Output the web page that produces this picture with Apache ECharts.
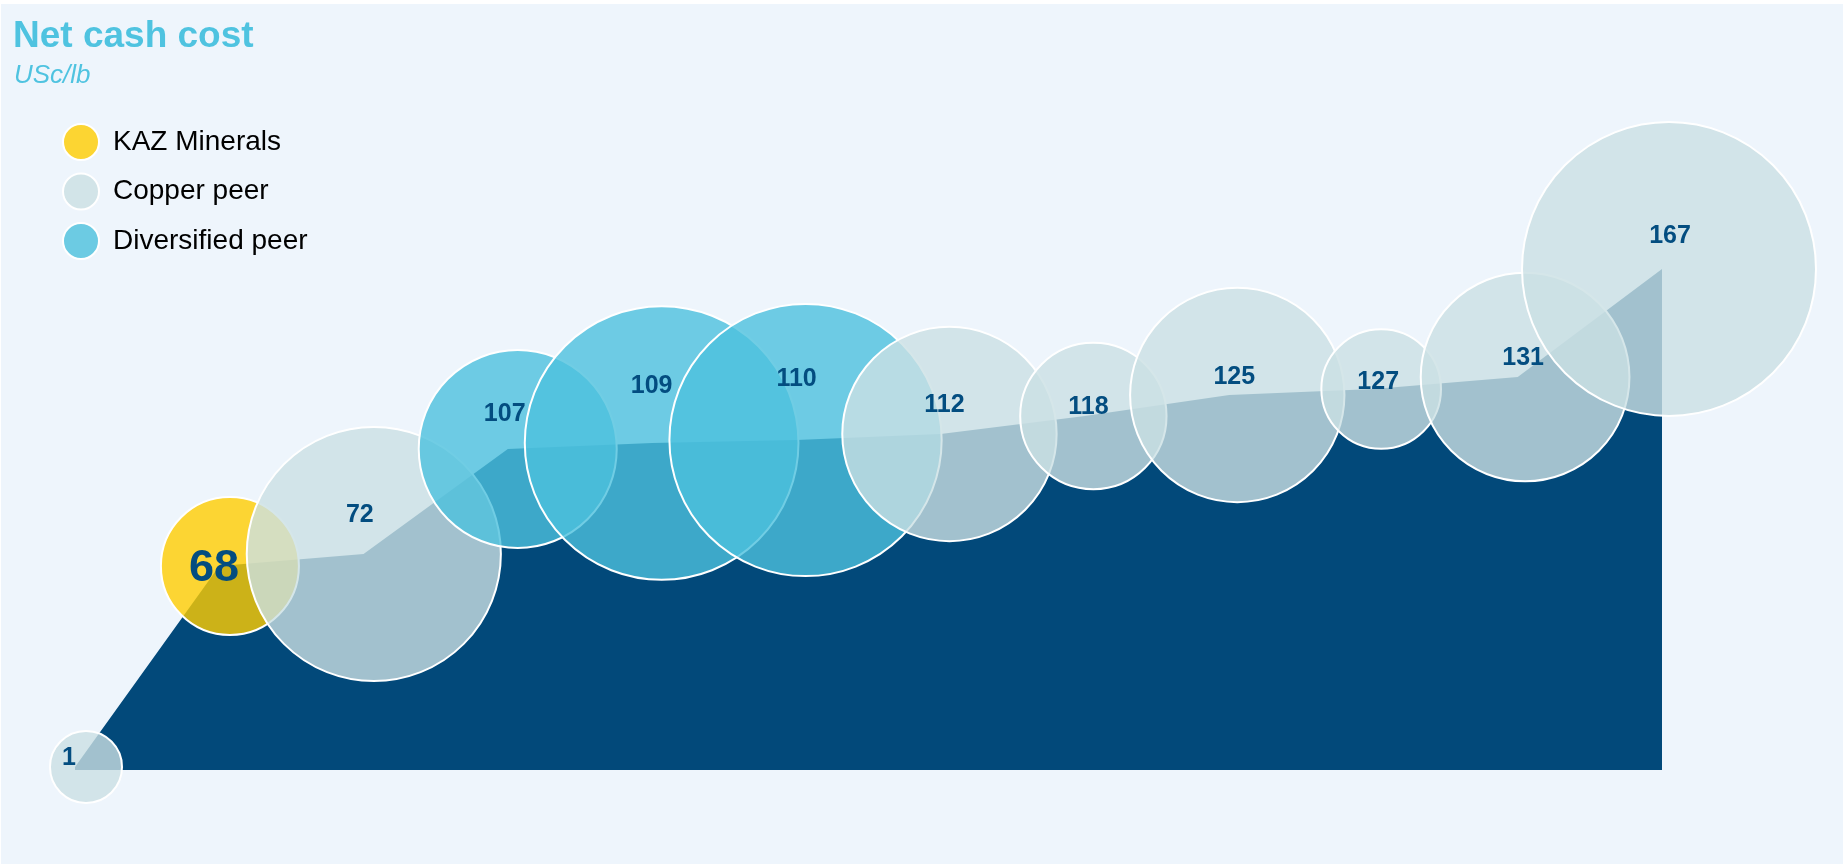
<!DOCTYPE html>
<html>
<head>
<meta charset="utf-8">
<script src="https://cdn.jsdelivr.net/npm/echarts@6/dist/echarts.min.js"></script>
<style>
  html, body { margin: 0; padding: 0; background: #ffffff; }
  #chart { width: 1846px; height: 865px; }
</style>
</head>
<body>
<div id="chart"></div>
<script>
// ---- data ----
const peerRank = ['1', '2', '3', '4', '5', '6', '7', '8', '9', '10', '11', '12'];
const netCashCost = [1, 68, 72, 107, 109, 110, 112, 118, 125, 127, 131, 167];
const peerType = ['Copper peer', 'KAZ Minerals', 'Copper peer', 'Diversified peer', 'Diversified peer',
  'Diversified peer', 'Copper peer', 'Copper peer', 'Copper peer', 'Copper peer', 'Copper peer', 'Copper peer'];
const production = [13.7, 49, 164, 100, 190, 188, 117, 55, 117, 37, 111, 219];
const legendNames = ['KAZ Minerals', 'Copper peer', 'Diversified peer'];

// ---- styles ----
const typeColors = {
  'KAZ Minerals': 'rgba(255,205,0,0.8)',
  'Copper peer': 'rgba(203,224,227,0.8)',
  'Diversified peer': 'rgba(76,192,221,0.8)'
};
const legendColors = {
  'KAZ Minerals': '#FCD532',
  'Copper peer': '#D2E4E8',
  'Diversified peer': '#6CCBE3'
};
const labelOffsets = [[-17, -9], [-16, 3], [-14, -39], [-13, -35], [-10, -57], [-9, -61],
  [-5, -29], [-5, -9], [-3, -18], [-3, -6.5], [-2, -19], [1, -33]];
const FONT = '"Liberation Sans", Arial, sans-serif';
const labelColor = '#034D80';

const bubbleData = netCashCost.map((v, i) => {
  const isKaz = peerType[i] === 'KAZ Minerals';
  return {
    value: [peerRank[i], v, production[i]],
    itemStyle: { color: typeColors[peerType[i]] },
    label: {
      offset: labelOffsets[i],
      fontSize: isKaz ? 45 : 25
    }
  };
});

const chart = echarts.init(document.getElementById('chart'), null, { renderer: 'canvas' });
const legendSeries = legendNames.map(n => ({
  name: n,
  type: 'scatter',
  xAxisIndex: 1,
  yAxisIndex: 1,
  data: [],
  itemStyle: { color: legendColors[n], borderColor: '#ffffff', borderWidth: 2, opacity: 1 }
}));

chart.setOption({
  animation: false,
  backgroundColor: '#ffffff',
  graphic: {
    elements: [{
      type: 'rect', left: 1, top: 4, silent: true, z: -100,
      shape: { width: 1842, height: 860 },
      style: { fill: '#EEF5FC' }
    }]
  },
  title: [
    { text: 'Net cash cost', left: 13, top: 18, padding: 0,
      textStyle: { color: '#4FC3E0', fontSize: 37, fontWeight: 'bold', fontFamily: FONT } },
    { text: 'USc/lb', left: 14, top: 63, padding: 0,
      textStyle: { color: '#4FC3E0', fontSize: 26, fontWeight: 'normal', fontStyle: 'italic', fontFamily: FONT } }
  ],
  legend: {
    data: legendNames.map(n => ({
      name: n,
      itemStyle: { color: legendColors[n], borderColor: '#ffffff', borderWidth: 2, opacity: 1 }
    })),
    orient: 'vertical',
    left: 62,
    top: 123,
    padding: 0,
    icon: 'circle',
    itemWidth: 36,
    itemHeight: 36,
    itemGap: 11.5,
    itemStyle: { opacity: 1 },
    textStyle: { color: '#000000', fontSize: 28, fontFamily: FONT, padding: [0, 0, 0, 9] },
    selectedMode: false
  },
  grid: [
    { left: 75, width: 1587, top: 170, height: 600 },
    { left: 86, width: 1583, top: 170, height: 600 }
  ],
  xAxis: [
    { type: 'category', gridIndex: 0, data: peerRank, boundaryGap: false, show: false },
    { type: 'category', gridIndex: 1, data: peerRank, boundaryGap: false, show: false }
  ],
  yAxis: [
    { type: 'value', gridIndex: 0, min: 0, max: 200, show: false },
    { type: 'value', gridIndex: 1, min: 0, max: 200, show: false }
  ],
  series: [
    {
      name: 'cost curve',
      type: 'line',
      xAxisIndex: 0,
      yAxisIndex: 0,
      data: netCashCost,
      showSymbol: false,
      symbol: 'none',
      lineStyle: { width: 0 },
      areaStyle: { color: '#02497A', opacity: 1 },
      z: 1,
      silent: true
    },
    {
      name: 'bubbles',
      type: 'scatter',
      xAxisIndex: 1,
      yAxisIndex: 1,
      data: bubbleData,
      symbolSize: d => 20 * Math.sqrt(d[2]) - 2,
      itemStyle: { borderColor: '#ffffff', borderWidth: 2, opacity: 1 },
      label: {
        show: true,
        position: 'inside',
        formatter: p => String(p.value[1]),
        color: labelColor,
        fontWeight: 'bold',
        fontFamily: FONT
      },
      z: 3,
      silent: true
    }
  ].concat(legendSeries)
});
</script>
</body>
</html>
